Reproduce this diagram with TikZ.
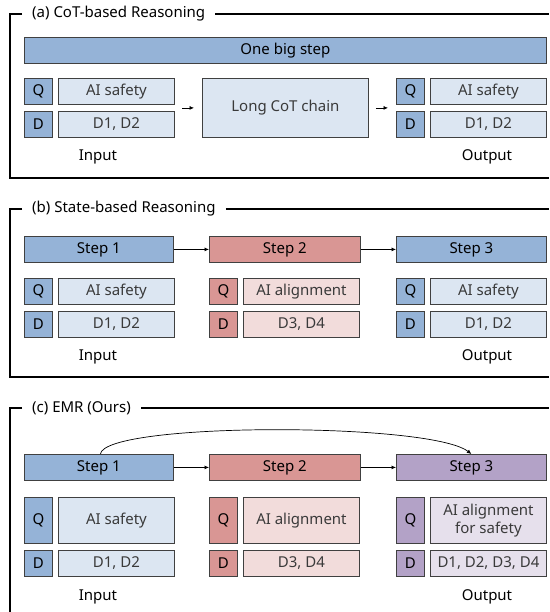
\documentclass[tikz,border=0pt]{standalone}
\usepackage{fontspec}
\setmainfont{Noto Sans}
\usetikzlibrary{arrows.meta,positioning}
\definecolor{stepblue}{HTML}{95B3D7}
\definecolor{boxblue}{HTML}{DCE6F2}
\definecolor{stepred}{HTML}{D99694}
\definecolor{boxred}{HTML}{F2DCDB}
\definecolor{steppurple}{HTML}{B3A2C7}
\definecolor{boxpurple}{HTML}{E6E0EC}
\definecolor{edge}{HTML}{404040}
\definecolor{ink}{HTML}{3A3A3A}

\begin{document}
\begin{tikzpicture}[
  x=1pt, y=-1pt,
  font=\fontsize{15}{18}\selectfont,
  cell/.style={draw=edge, line width=0.8pt, inner sep=0pt, align=center, text=ink, anchor=north west},
  stepbox/.style={cell, minimum height=26pt, text=black},
  tag/.style={cell, minimum width=28pt, minimum height=26pt, text=black, font=\fontsize{15}{18}\selectfont\bfseries},
  entry/.style={cell, minimum width=116.5pt, minimum height=26pt},
  frame/.style={line width=1.5pt, draw=black},
  title/.style={anchor=west, inner xsep=10pt, inner ysep=0pt, text=black},
  flow/.style={-{Latex[length=4.5pt,width=4pt]}, line width=0.7pt, draw=black},
  caption/.style={text=black}
]
\useasboundingbox (0,0) rectangle (549,612);

% (a) CoT-based Reasoning
\node[title] (titleA) at (22,14) {(a) CoT-based Reasoning};
\draw[frame] (titleA.west) -- (10,14) -- (10,178) -- (549,178);
\draw[frame] (titleA.east) -- (549,14);

\node[stepbox, fill=stepblue, minimum width=522pt] (bigstep) at (24,37) {One big step};

\node[tag, fill=stepblue] (qa1) at (24,78) {Q};
\node[tag, fill=stepblue] (da1) at (24,111) {D};
\node[entry, fill=boxblue, right=5pt of qa1] (ta1) {AI safety};
\node[entry, fill=boxblue, right=5pt of da1] (ta2) {D1, D2};

\node[cell, fill=boxblue, minimum width=166pt, minimum height=59pt] (cot) at (202,78) {Long CoT chain};

\node[tag, fill=stepblue] (qa2) at (396,78) {Q};
\node[tag, fill=stepblue] (da2) at (396,111) {D};
\node[entry, fill=boxblue, right=5pt of qa2] (ta3) {AI safety};
\node[entry, fill=boxblue, right=5pt of da2] (ta4) {D1, D2};

\node[caption] (inA) at (98,157) {Input};
\node[caption] (outA) at (487,157) {Output};

\draw[flow, shorten <=7pt, shorten >=8pt] (ta1.east |- cot.west) -- (cot.west);
\draw[flow, shorten <=7pt, shorten >=8pt] (cot.east) -- (qa2.west |- cot.east);

% (b) State-based Reasoning
\node[title] (titleB) at (22,209) {(b) State-based Reasoning};
\draw[frame] (titleB.west) -- (10,209) -- (10,377) -- (549,377);
\draw[frame] (titleB.east) -- (549,209);

\node[stepbox, fill=stepblue, minimum width=149pt] (b1) at (24,236) {Step 1};
\node[stepbox, fill=stepred, minimum width=151pt] (b2) at (209,236) {Step 2};
\node[stepbox, fill=stepblue, minimum width=150pt] (b3) at (396,236) {Step 3};

\node[tag, fill=stepblue] (qb1) at (24,278) {Q};
\node[tag, fill=stepblue] (db1) at (24,311) {D};
\node[entry, fill=boxblue, right=5pt of qb1] (tb1) {AI safety};
\node[entry, fill=boxblue, right=5pt of db1] (tb2) {D1, D2};

\node[tag, fill=stepred] (qb2) at (209,278) {Q};
\node[tag, fill=stepred] (db2) at (209,311) {D};
\node[entry, fill=boxred, right=5pt of qb2] (tb3) {AI alignment};
\node[entry, fill=boxred, right=5pt of db2] (tb4) {D3, D4};

\node[tag, fill=stepblue] (qb3) at (396,278) {Q};
\node[tag, fill=stepblue] (db3) at (396,311) {D};
\node[entry, fill=boxblue, right=5pt of qb3] (tb5) {AI safety};
\node[entry, fill=boxblue, right=5pt of db3] (tb6) {D1, D2};

\node[caption] (inB) at (98,357) {Input};
\node[caption] (outB) at (487,357) {Output};

\draw[flow] (b1) -- (b2);
\draw[flow] (b2) -- (b3);

% (c) EMR (Ours)
\node[title] (titleC) at (22,408) {(c) EMR (Ours)};
\draw[frame] (titleC.west) -- (10,408) -- (10,612);
\draw[frame] (titleC.east) -- (549,408);

\node[stepbox, fill=stepblue, minimum width=149pt] (c1) at (24,454) {Step 1};
\node[stepbox, fill=stepred, minimum width=151pt] (c2) at (209,454) {Step 2};
\node[stepbox, fill=steppurple, minimum width=150pt] (c3) at (396,454) {Step 3};

\node[tag, fill=stepblue, minimum height=46pt] (qc1) at (24,497) {Q};
\node[tag, fill=stepblue] (dc1) at (24,550) {D};
\node[entry, fill=boxblue, minimum height=46pt, right=5pt of qc1] (tc1) {AI safety};
\node[entry, fill=boxblue, right=5pt of dc1] (tc2) {D1, D2};

\node[tag, fill=stepred, minimum height=46pt] (qc2) at (209,497) {Q};
\node[tag, fill=stepred] (dc2) at (209,550) {D};
\node[entry, fill=boxred, minimum height=46pt, right=5pt of qc2] (tc3) {AI alignment};
\node[entry, fill=boxred, right=5pt of dc2] (tc4) {D3, D4};

\node[tag, fill=steppurple, minimum height=46pt] (qc3) at (396,497) {Q};
\node[tag, fill=steppurple] (dc3) at (396,550) {D};
\node[entry, fill=boxpurple, minimum height=46pt, right=5pt of qc3] (tc5) {AI alignment\\for safety};
\node[entry, fill=boxpurple, right=5pt of dc3] (tc6) {D1, D2, D3, D4};

\node[caption] (inC) at (98,597) {Input};
\node[caption] (outC) at (487,597) {Output};

\draw[flow] (c1) -- (c2);
\draw[flow] (c2) -- (c3);
\draw[flow] ([xshift=1.5pt]c1.north) .. controls (105,422) and (430,422) .. (c3.north);

\end{tikzpicture}
\end{document}
